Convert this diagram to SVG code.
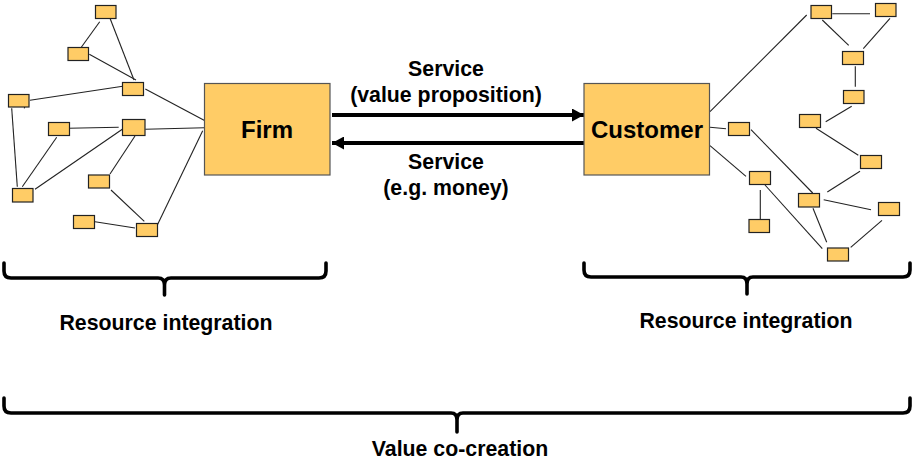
<svg xmlns="http://www.w3.org/2000/svg" width="912" height="461" viewBox="0 0 912 461">
<style>
text{font-family:"Liberation Sans",Arial,sans-serif;font-weight:700;fill:#000;text-anchor:middle}
.t{font-size:21.3px}
.b{font-size:24px}
.n{fill:#fc6;stroke:#222;stroke-width:1.2}
.m{fill:#fc6;stroke:#555;stroke-width:1.2}
#connectors line{stroke:#222;stroke-width:1.1}
.br{fill:none;stroke:#000;stroke-width:3.6;stroke-linecap:round;stroke-linejoin:round}
#connectors line.ar{stroke:#000;stroke-width:4}
</style>
<defs>
<marker id="ah" markerUnits="userSpaceOnUse" markerWidth="13" markerHeight="13" refX="12" refY="6.5" orient="auto"><path d="M0 0L12 6.5L0 13Z" fill="#000"/></marker>
</defs>
<rect width="912" height="461" fill="#fff"/>
<g id="connectors">
<line x1="99.7" y1="21.7" x2="81.3" y2="47.3"/>
<line x1="110" y1="18.3" x2="134" y2="80"/>
<line x1="89.3" y1="54.3" x2="136" y2="80"/>
<line x1="145.3" y1="89" x2="205" y2="120.7"/>
<line x1="30" y1="100.3" x2="122.7" y2="86.3"/>
<line x1="26.7" y1="99" x2="24.3" y2="108.3"/>
<line x1="11.7" y1="108.3" x2="17.3" y2="186.7"/>
<line x1="68.3" y1="128.3" x2="118.7" y2="127.3"/>
<line x1="145.3" y1="129.3" x2="204.3" y2="127.7"/>
<line x1="56.7" y1="137.3" x2="22.3" y2="186.7"/>
<line x1="122.3" y1="129.3" x2="35" y2="189.3"/>
<line x1="135" y1="136" x2="110" y2="174"/>
<line x1="111" y1="190" x2="144.3" y2="221.3"/>
<line x1="95" y1="221.7" x2="135" y2="228"/>
<line x1="202.7" y1="130.7" x2="155.3" y2="229.3"/>
<line x1="806.7" y1="15" x2="710" y2="111.7"/>
<line x1="710" y1="127.3" x2="726" y2="128.7"/>
<line x1="710" y1="145.7" x2="746" y2="176.3"/>
<line x1="832.3" y1="13.7" x2="870" y2="13.7"/>
<line x1="822.3" y1="20" x2="848.7" y2="45.3"/>
<line x1="890" y1="18.3" x2="863.3" y2="48.7"/>
<line x1="855.3" y1="66.3" x2="855.3" y2="86.7"/>
<line x1="851.7" y1="106.3" x2="825.7" y2="121.7"/>
<line x1="816" y1="128.3" x2="858.3" y2="155.3"/>
<line x1="751" y1="129.7" x2="812.7" y2="193"/>
<line x1="860" y1="171.3" x2="827.3" y2="192"/>
<line x1="823.7" y1="199.7" x2="871" y2="209.7"/>
<line x1="813" y1="208.3" x2="826.7" y2="242.3"/>
<line x1="765" y1="185" x2="822.3" y2="248.7"/>
<line x1="882" y1="220.3" x2="850.7" y2="247.3"/>
<line x1="760.3" y1="190" x2="760.3" y2="219.3"/>
<line class="ar" x1="332" y1="115" x2="584" y2="115" marker-end="url(#ah)"/>
<line class="ar" x1="584" y1="143" x2="332" y2="143" marker-end="url(#ah)"/>
</g>
<g id="firm"><rect class="m" x="204.5" y="83.5" width="125.5" height="91.5"/><text class="b" x="267" y="138">Firm</text></g>
<g id="customer"><rect class="m" x="584" y="83.5" width="125.5" height="91.5"/><text class="b" x="647" y="138">Customer</text></g>
<g id="l1"><rect class="n" x="95.5" y="5.5" width="20.5" height="13"/></g>
<g id="l2"><rect class="n" x="68" y="47.5" width="20.5" height="13"/></g>
<g id="l3"><rect class="n" x="122.5" y="82.5" width="21" height="13"/></g>
<g id="l4"><rect class="n" x="8.5" y="94.5" width="20.5" height="12.5"/></g>
<g id="l5"><rect class="n" x="48.5" y="122.5" width="21" height="13"/></g>
<g id="l6"><rect class="n" x="122.5" y="119.5" width="22.5" height="16"/></g>
<g id="l7"><rect class="n" x="88.5" y="175" width="21" height="13"/></g>
<g id="l8"><rect class="n" x="12.5" y="188.5" width="20.5" height="13.5"/></g>
<g id="l9"><rect class="n" x="73.5" y="215.5" width="21" height="13"/></g>
<g id="l10"><rect class="n" x="136.5" y="223.5" width="21" height="13"/></g>
<g id="r1"><rect class="n" x="811" y="5.5" width="20.5" height="13"/></g>
<g id="r2"><rect class="n" x="875.5" y="3.5" width="20.5" height="13"/></g>
<g id="r3"><rect class="n" x="842.5" y="51.5" width="21" height="13"/></g>
<g id="r4"><rect class="n" x="843.5" y="90.5" width="20.5" height="13"/></g>
<g id="r5"><rect class="n" x="799.5" y="114.5" width="21" height="13"/></g>
<g id="r6"><rect class="n" x="728.5" y="122.5" width="21" height="13"/></g>
<g id="r7"><rect class="n" x="860.5" y="155.5" width="21" height="13"/></g>
<g id="r8"><rect class="n" x="749.5" y="171.5" width="21" height="13"/></g>
<g id="r9"><rect class="n" x="798.5" y="193.5" width="21" height="13.5"/></g>
<g id="r10"><rect class="n" x="878.5" y="202.5" width="21" height="13"/></g>
<g id="r11"><rect class="n" x="749" y="219.5" width="20.5" height="13"/></g>
<g id="r12"><rect class="n" x="827.5" y="248" width="21" height="13"/></g>
<g id="braces">
<path class="br" d="M4 263V271Q4 278 11 278H158Q164.5 278 164.5 285V295Q164.5 285 164.5 285Q164.5 278 171 278H319Q326 278 326 271V263"/>
<path class="br" d="M584 263V270Q584 277 591 277H741Q747 277 747 284V294Q747 284 747 284Q747 277 753 277H903Q910 277 910 270V263"/>
<path class="br" d="M4 398V406Q4 413 11 413H451Q457 413 457 420V432Q457 420 457 420Q457 413 463 413H903Q910 413 910 406V398"/>
</g>
<g id="labels">
<text class="t" x="446" y="76">Service</text>
<text class="t" x="446" y="102">(value proposition)</text>
<text class="t" x="446" y="169">Service</text>
<text class="t" x="446" y="195">(e.g. money)</text>
<text class="t" x="166" y="330">Resource integration</text>
<text class="t" x="746" y="328">Resource integration</text>
<text class="t" x="460" y="456">Value co-creation</text>
</g>
</svg>
